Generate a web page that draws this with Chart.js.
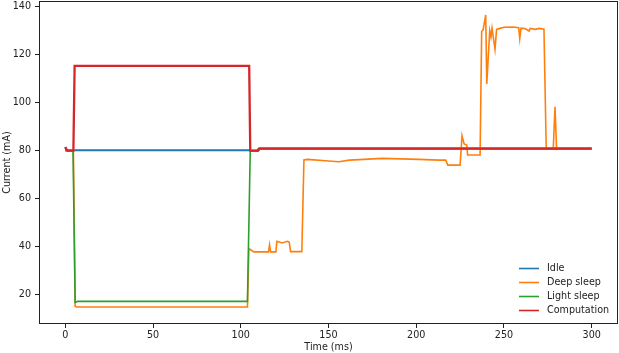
<!DOCTYPE html>
<html>
<head>
<meta charset="utf-8">
<title>Current draw per power mode</title>
<script src="https://cdn.jsdelivr.net/npm/chart.js@4.4.1/dist/chart.umd.min.js"></script>
<style>
  html, body { margin: 0; padding: 0; background: #fff; }
  canvas { display: block; }
</style>
</head>
<body>
<canvas id="currentChart" width="619" height="353"></canvas>
<script>
// Current draw of the board in each power mode

var seriesNames = ['Idle', 'Deep sleep', 'Light sleep', 'Computation'];
var seriesColors = ['#1f77b4', '#ff7f0e', '#2ca02c', '#d62728'];

// time (ms) / current (mA) for each mode
var idleTime = [0, 0.6, 1.2, 5, 105.4, 106, 110, 110.8, 300];
var idleCurrent = [81.4, 80.4, 80.1, 80.2, 80.2, 80, 80, 80.9, 80.9];

var deepTime = [0, 4.6, 5.6, 6.5, 103.8, 104.6, 105.4, 107.5, 115.8, 116.4, 117, 120, 120.6, 123.6, 126.5,
  127.6, 128.4, 134.8, 136, 138, 150, 156, 161.8, 167.5, 180.6, 201.6, 213, 216.8, 218, 225, 226.1, 227.3,
  228.8, 229.3, 236.4, 237.3, 238.1, 239.6, 240.2, 241.9, 242.6, 243.2, 244.9, 245.8, 247.2, 250, 255,
  258.4, 259, 259.7, 262, 264.3, 265, 268, 270, 272.8, 274.1, 278.1, 279.1, 280, 281, 300];
var deepCurrent = [80, 80, 15.3, 15, 15, 39.3, 38.9, 37.9, 37.9, 40.8, 37.9, 37.9, 42.3, 41.6, 42.3,
  42, 38, 38, 76.2, 76.4, 75.7, 75.4, 76.1, 76.3, 76.8, 76.4, 76.1, 76.1, 74.0, 74.0, 86.2, 82.8,
  82.4, 78.2, 78.2, 129.6, 130.2, 136.5, 107.8, 130, 127.4, 131, 122.2, 130.5, 130.8, 131.4, 131.5,
  131.2, 126.6, 131, 130.8, 129.8, 130.9, 130.5, 130.9, 130.6, 80.6, 80.6, 98.3, 80.6, 80.9, 80.9];

var lightTime = [0, 4.4, 5.6, 7, 103.8, 105.4, 110, 110.8, 300];
var lightCurrent = [80, 80, 16.9, 17.3, 17.3, 80, 80, 80.9, 80.9];

var compTime = [0, 0.6, 1.2, 4.6, 5.3, 104.8, 105.4, 109.5, 110.3, 300];
var compCurrent = [81.5, 80.6, 80, 80, 115.3, 115.3, 80, 80, 80.9, 80.9];

// axis ticks
var xTicks = [0, 50, 100, 150, 200, 250, 300];
var yTicks = [20, 40, 60, 80, 100, 120, 140];

(function() {
  'use strict';

  var textColor = '#222';
  var fontFamily = '"DejaVu Sans", sans-serif';
  var fontSize = 9.6;

  function toPoints(times, values) {
    return times.map(function(t, i) {
      return { x: t, y: values[i] };
    });
  }

  var allTimes = [idleTime, deepTime, lightTime, compTime];
  var allValues = [idleCurrent, deepCurrent, lightCurrent, compCurrent];
  var widths = [2, 1.6, 1.6, 2.3];

  var datasets = seriesNames.map(function(name, i) {
    return {
      label: name,
      data: toPoints(allTimes[i], allValues[i]),
      borderColor: seriesColors[i],
      backgroundColor: seriesColors[i],
      borderWidth: widths[i],
      pointRadius: 0,
      tension: 0,
      fill: false,
      order: seriesNames.length - i // later series drawn on top, like matplotlib
    };
  });

  // matplotlib-style frame + legend in the lower right corner
  var framePlugin = {
    id: 'frameAndLegend',
    afterDraw: function(chart) {
      var ctx = chart.ctx;
      var area = chart.chartArea;
      ctx.save();
      ctx.strokeStyle = textColor;
      ctx.lineWidth = 1;
      ctx.strokeRect(Math.round(area.left) + 0.5, Math.round(area.top) + 0.5,
        Math.round(area.right - area.left) - 1, Math.round(area.bottom - area.top) - 1);

      var lineX = 519;
      var textX = 547;
      var rowY = 267.5;
      var rowStep = 14.2;
      ctx.font = fontSize + 'px ' + fontFamily;
      ctx.textBaseline = 'middle';
      ctx.textAlign = 'left';
      chart.data.datasets.forEach(function(ds, i) {
        var y = Math.round(rowY + i * rowStep) + 0.5;
        ctx.strokeStyle = ds.borderColor;
        ctx.lineWidth = 1.6;
        ctx.beginPath();
        ctx.moveTo(lineX, y);
        ctx.lineTo(lineX + 20, y);
        ctx.stroke();
        ctx.fillStyle = textColor;
        ctx.fillText(ds.label, textX, y);
      });
      ctx.restore();
    }
  };

  function zeroPadding(scale) {
    scale.paddingTop = 0;
    scale.paddingBottom = 0;
    scale.paddingLeft = 0;
    scale.paddingRight = 0;
  }

  var ctx = document.getElementById('currentChart').getContext('2d');
  new Chart(ctx, {
    type: 'line',
    data: { datasets: datasets },
    plugins: [framePlugin],
    options: {
      responsive: false,
      animation: false,
      layout: {
        padding: { left: 0, right: 1, top: 1, bottom: 0 }
      },
      plugins: {
        legend: { display: false },
        tooltip: { enabled: false }
      },
      scales: {
        x: {
          type: 'linear',
          min: -15,
          max: 315,
          afterBuildTicks: function(scale) {
            scale.ticks = xTicks.map(function(v) { return { value: v }; });
          },
          afterFit: function(scale) {
            scale.height = 29;
            zeroPadding(scale);
          },
          border: { display: false },
          grid: {
            display: true,
            drawOnChartArea: false,
            drawTicks: true,
            tickLength: 4,
            color: textColor
          },
          ticks: {
            color: textColor,
            padding: 2,
            maxRotation: 0,
            autoSkip: false,
            font: { family: fontFamily, size: fontSize }
          },
          title: {
            display: true,
            text: 'Time (ms)',
            color: textColor,
            padding: { top: 0, bottom: 0 },
            font: { family: fontFamily, size: fontSize }
          }
        },
        y: {
          type: 'linear',
          min: 7.9,
          max: 142.3,
          afterBuildTicks: function(scale) {
            scale.ticks = yTicks.map(function(v) { return { value: v }; });
          },
          afterFit: function(scale) {
            scale.width = 39;
            zeroPadding(scale);
          },
          border: { display: false },
          grid: {
            display: true,
            drawOnChartArea: false,
            drawTicks: true,
            tickLength: 4,
            color: textColor
          },
          ticks: {
            color: textColor,
            padding: 4,
            autoSkip: false,
            font: { family: fontFamily, size: fontSize }
          },
          title: {
            display: true,
            text: 'Current (mA)',
            color: textColor,
            padding: { top: 2, bottom: 0 },
            font: { family: fontFamily, size: fontSize }
          }
        }
      }
    }
  });
})();
</script>
</body>
</html>
